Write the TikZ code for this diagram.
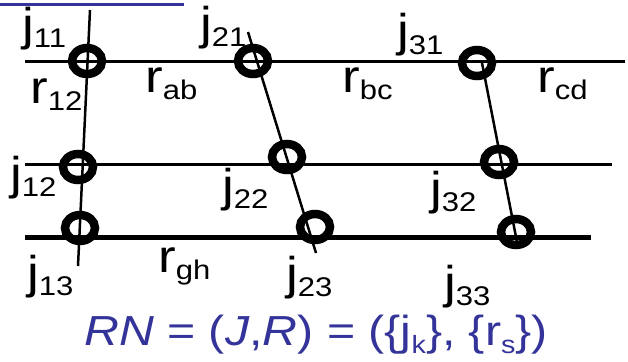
\documentclass[tikz,border=0pt]{standalone}
\usepackage{fontspec}
\setmainfont{Liberation Sans}
\usetikzlibrary{shapes.geometric}
\definecolor{rnblue}{RGB}{51,51,153}
\newcommand{\sublab}[2]{\scalebox{1.15}[1]{#1\raisebox{-7pt}{\fontsize{27}{27}\selectfont #2}}}
\newcommand{\smallsub}[1]{\raisebox{-8pt}{\fontsize{25}{25}\selectfont #1}}
\begin{document}
\begin{tikzpicture}[x=1pt,y=-1pt,
	junc/.style={draw, ellipse, line width=8.5pt, minimum width=30pt, minimum height=26pt, inner sep=0pt},
	lbl/.style={anchor=base west, inner sep=0pt, font=\fontsize{46}{50}\selectfont},
	rail/.style={line width=3pt},
	joint/.style={line width=2.5pt}]
	\useasboundingbox (0,0) rectangle (628,361);
	% title underline, cut off at the top
	\coordinate (ulw) at (0,5);
	\coordinate (ule) at (184,5);
	\draw [rnblue, line width=3pt] (ulw) -- (ule);
	% rails
	\coordinate (h1w) at (25,61);  \coordinate (h1e) at (625,61);
	\coordinate (h2w) at (25,164); \coordinate (h2e) at (612,164);
	\coordinate (h3w) at (25,237); \coordinate (h3e) at (591,237);
	\draw [rail] (h1w) -- (h1e);
	\draw [rail] (h2w) -- (h2e);
	\draw [rail, line width=5pt] (h3w) -- (h3e);
	% joints
	\coordinate (aTop) at (90,10);  \coordinate (aBot) at (78,266);
	\coordinate (bTop) at (248,32); \coordinate (bBot) at (316,253);
	\coordinate (cTop) at (482,63); \coordinate (cBot) at (517,242);
	\draw [joint] (aTop) -- (aBot);
	\draw [joint] (bTop) -- (bBot);
	\draw [joint] (cTop) -- (cBot);
	% junctions
	\node [junc] (j11) at (87,61) {};
	\node [junc] (j21) at (253,61) {};
	\node [junc] (j31) at (477,63) {};
	\node [junc] (j12) at (78,167) {};
	\node [junc] (j22) at (287,157) {};
	\node [junc] (j32) at (499,162) {};
	\node [junc] (j13) at (80,228) {};
	\node [junc] (j23) at (315,227) {};
	\node [junc] (j33) at (516,232) {};
	% labels
	\node [lbl] (l11) at (22,41) {\sublab{j}{11}};
	\node [lbl] (l21) at (200,40) {\sublab{j}{21}};
	\node [lbl] (l31) at (397,47) {\sublab{j}{31}};
	\node [lbl] (l12) at (10,189) {\sublab{j}{12}};
	\node [lbl] (l22) at (222,201) {\sublab{j}{22}};
	\node [lbl] (l32) at (430,204) {\sublab{j}{32}};
	\node [lbl] (l13) at (27,288) {\sublab{j}{13}};
	\node [lbl] (l23) at (286,289) {\sublab{j}{23}};
	\node [lbl] (l33) at (444,298) {\sublab{j}{33}};
	\node [lbl] (r12) at (30,103) {\sublab{r}{12}};
	\node [lbl] (rab) at (145,92) {\sublab{r}{ab}};
	\node [lbl] (rbc) at (342,92) {\sublab{r}{bc}};
	\node [lbl] (rcd) at (537,92) {\sublab{r}{cd}};
	\node [lbl] (rgh) at (158,272) {\sublab{r}{gh}};
	% definition
	\node [anchor=base, inner sep=0pt, text=rnblue, font=\fontsize{42}{46}\selectfont] (rn) at (316,345)
		{\scalebox{1.15}[1]{\textit{RN} = (\textit{J},\textit{R}) = (\{j\smallsub{k}\}, \{r\smallsub{s}\})}};
\end{tikzpicture}
\end{document}
